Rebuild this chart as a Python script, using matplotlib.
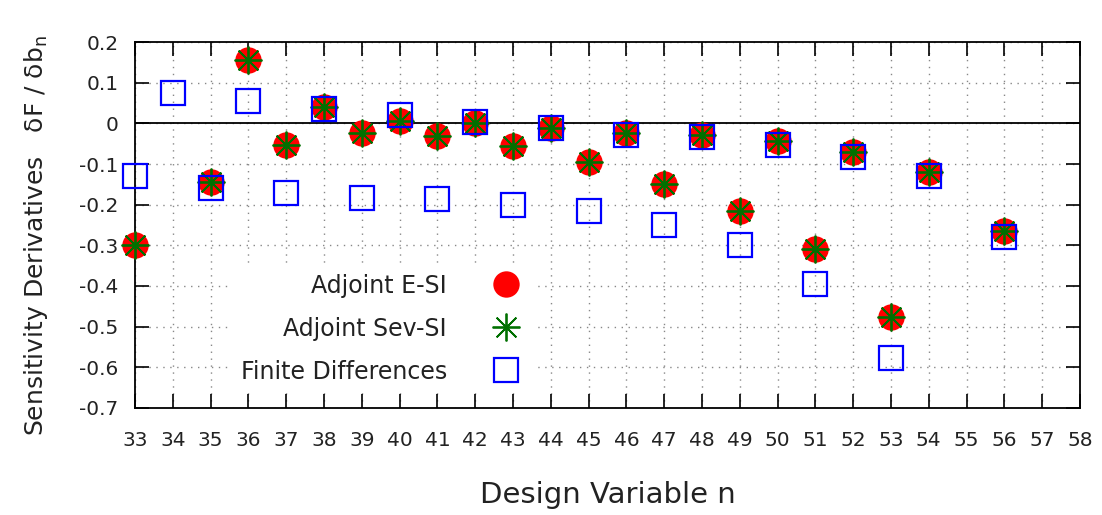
import numpy as np
from matplotlib import pyplot as plt

# design variables and sensitivity derivatives dF/db_n
design_vars = [33, 35, 36, 37, 38, 39, 40, 41, 42, 43, 44, 45, 46, 47, 48, 49, 50, 51, 52, 53, 54, 56]
adjoint_esi = [-0.30, -0.143, 0.157, -0.052, 0.041, -0.024, 0.006, -0.030, 0.0, -0.056, -0.010,
               -0.096, -0.024, -0.150, -0.029, -0.216, -0.043, -0.310, -0.069, -0.476, -0.120, -0.265]
adjoint_sevsi = [-0.30, -0.143, 0.157, -0.052, 0.041, -0.024, 0.006, -0.030, 0.0, -0.056, -0.010,
                 -0.096, -0.024, -0.150, -0.029, -0.216, -0.043, -0.310, -0.069, -0.476, -0.120, -0.265]

fd_vars = [33, 34, 35, 36, 37, 38, 39, 40, 41, 42, 43, 44, 45, 46, 47, 48, 49, 50, 51, 52, 53, 54, 56]
finite_diff = [-0.129, 0.074, -0.158, 0.055, -0.172, 0.035, -0.183, 0.021, -0.187, 0.004, -0.200,
               -0.010, -0.215, -0.029, -0.250, -0.033, -0.300, -0.053, -0.394, -0.083, -0.576, -0.130, -0.280]

x_ticks = list(range(33, 59))
y_ticks = [0.2, 0.1, 0, -0.1, -0.2, -0.3, -0.4, -0.5, -0.6, -0.7]

fig = plt.figure(figsize=(11.02, 5.15), dpi=100)
ax = fig.add_axes([0.1225, 0.208, 0.8575, 0.710])

ax.plot(design_vars, adjoint_esi, linestyle='none', marker='o', markersize=19,
        color='#ff0000', markeredgewidth=0, label='Adjoint E-SI', zorder=3, clip_on=False)
ax.plot(design_vars, adjoint_sevsi, linestyle='none', marker=(8, 2, 0), markersize=20,
        color='#007000', markeredgewidth=1.3, label='Adjoint Sev-SI', zorder=4, clip_on=False)
ax.plot(fd_vars, finite_diff, linestyle='none', marker='s', markersize=17,
        markerfacecolor='none', markeredgecolor='#0000ff', markeredgewidth=1.6,
        label='Finite Differences', zorder=5, clip_on=False)

ax.axhline(0, color='black', linewidth=1.3, zorder=2)

ax.set_xlim(33, 58)
ax.set_ylim(-0.7, 0.2)
ax.set_xticks(x_ticks)
ax.set_yticks(y_ticks)
ax.set_yticklabels(['0.2', '0.1', '0', '-0.1', '-0.2', '-0.3', '-0.4', '-0.5', '-0.6', '-0.7'])

ax.grid(True, color='#888888', linestyle=(0, (1, 4)), linewidth=1.0)
ax.tick_params(axis='both', direction='in', length=10, width=1.2, labelsize=14.5,
               top=True, right=True, colors='black', labelcolor='#222222')
ax.tick_params(axis='x', pad=17)
ax.tick_params(axis='y', pad=12)
for s in ax.spines.values():
    s.set_linewidth(1.3)

ax.set_xlabel('Design Variable n', fontsize=21, labelpad=22, color='#222222')
ax.set_ylabel('Sensitivity Derivatives   \u03b4F / \u03b4b$_\\mathregular{n}$', fontsize=18,
              color='#222222')
ax.yaxis.set_label_coords(-0.090, 0.472)

leg = ax.legend(loc='upper right', bbox_to_anchor=(0.435, 0.425), frameon=True,
                markerfirst=False, fontsize=17, handletextpad=1.7, labelspacing=0.8,
                borderpad=0.4, handlelength=1.6)
leg.get_frame().set_edgecolor('none')
leg.get_frame().set_facecolor('white')
leg.get_frame().set_alpha(1.0)
leg.set_zorder(6)
for t in leg.get_texts():
    t.set_color('#222222')

fig.savefig('out.png', dpi=100)
